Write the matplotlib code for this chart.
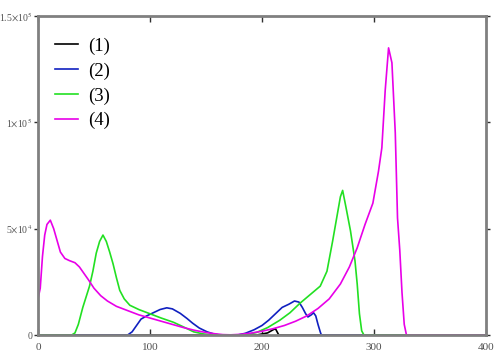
import matplotlib
matplotlib.use("Agg")
import matplotlib.pyplot as plt
from matplotlib.ticker import FixedLocator, FixedFormatter

# ---- data ----
labels = ["(1)", "(2)", "(3)", "(4)"]

x1 = [0, 195, 205, 210, 212, 215, 400]
y1 = [0, 0, 1000, 2500, 3000, 0, 0]

x2 = [0, 80, 84, 88, 92, 97, 103, 109, 115, 120, 127, 133, 138, 144, 151, 157, 162,
      178, 185, 193, 200, 206, 212, 218, 224, 229, 233, 236, 239, 241, 244, 246, 248,
      250, 252, 253, 400]
y2 = [0, 0, 1500, 4500, 7500, 9000, 10500, 12000, 12800, 12300, 10200, 7800, 5600,
      3300, 1500, 500, 0,
      0, 800, 2500, 4500, 7000, 10000, 13000, 14500, 16000, 15500, 13000, 10000, 8500,
      9500, 10500, 9000, 5000, 1500, 0, 0]

x3 = [0, 30, 33, 36, 40, 43, 46, 49, 52, 55, 58, 61, 64, 67, 70, 73, 77, 82, 90, 100,
      110, 121, 130, 139, 148, 156, 185, 195, 205, 216, 225, 234, 243, 252, 258, 263,
      267, 270, 272, 275, 279, 283, 285, 287, 289, 291, 400]
y3 = [0, 0, 1000, 5000, 13000, 18000, 23000, 30000, 38500, 44000, 47000, 44000, 39000,
      33500, 27000, 21000, 17000, 14000, 12000, 10000,
      8000, 6000, 3800, 1500, 500, 0, 0, 1200, 3500, 7000, 10500, 15000, 19000, 23000,
      30000, 44000, 56000, 65000, 68000, 60000, 49000, 35000, 24000, 10000, 2000, 0, 0]

x4 = [0, 2, 4, 6, 8, 11, 14, 17, 20, 24, 28, 33, 37, 41, 45, 50, 56, 62, 70, 80, 90,
      100, 110, 120, 130, 140, 150, 158, 165, 172, 180, 190, 200, 210, 220, 230, 240,
      250, 260, 270, 278, 285, 292, 299, 304, 307, 310, 313, 316, 319, 321, 323, 325,
      327, 329, 400]
y4 = [17000, 22000, 37000, 47000, 52000, 54000, 50000, 44500, 39000, 36000, 35000,
      34000, 32000, 29000, 26000, 22000, 18500, 16000, 13500, 11500, 9500,
      8000, 6500, 5000, 3500, 2200, 1200, 600, 200, 100, 300, 900, 1800, 3000, 4500,
      6500, 9000, 12500, 17000, 24000, 32000, 41000, 52000, 62000, 77000, 88000,
      115000, 135000, 128000, 95000, 55000, 40000, 20000, 5000, 0, 0]

xticks = [0, 100, 200, 300, 400]
yticks = [0, 50000, 100000, 150000]
ytick_labels = ["0", r"5$\times$10$^4$", r"1$\times$10$^5$", r"1.5$\times$10$^5$"]

# ---- plot ----
plt.rcParams["font.family"] = ["Liberation Serif", "DejaVu Serif"]
plt.rcParams["mathtext.fontset"] = "stix"

fig = plt.figure(figsize=(5.0, 3.63), dpi=100)
ax = fig.add_axes([0.076, 0.077, 0.896, 0.879])

colors = ["#000000", "#1020c0", "#22e022", "#e800e8"]
for xs, ys, c, lab in zip([x1, x2, x3, x4], [y1, y2, y3, y4], colors, labels):
    ax.plot(xs, ys, color=c, lw=1.2, label=lab)

ax.set_xlim(0, 400)
ax.set_ylim(0, 150000)

ax.xaxis.set_major_locator(FixedLocator(xticks))
ax.yaxis.set_major_locator(FixedLocator(yticks))
ax.yaxis.set_major_formatter(FixedFormatter(ytick_labels))
ax.set_xticklabels([str(v) for v in xticks])

for s in ax.spines.values():
    s.set_color("#808080")
    s.set_linewidth(2.0)

ax.tick_params(axis="x", direction="in", length=4, width=1, colors="#303030",
               labelsize=8, pad=6, top=True, labelcolor="#505050")
ax.tick_params(axis="y", direction="out", length=3, width=1, colors="#303030",
               labelsize=7, pad=1, right=True, labelcolor="#505050")

leg = ax.legend(loc="upper left", bbox_to_anchor=(0.038, 0.932), frameon=False,
                fontsize=13.5, handlelength=1.23, handletextpad=0.53,
                labelspacing=0.4, borderaxespad=0, borderpad=0)

fig.savefig("out.png", dpi=100, facecolor="white")
